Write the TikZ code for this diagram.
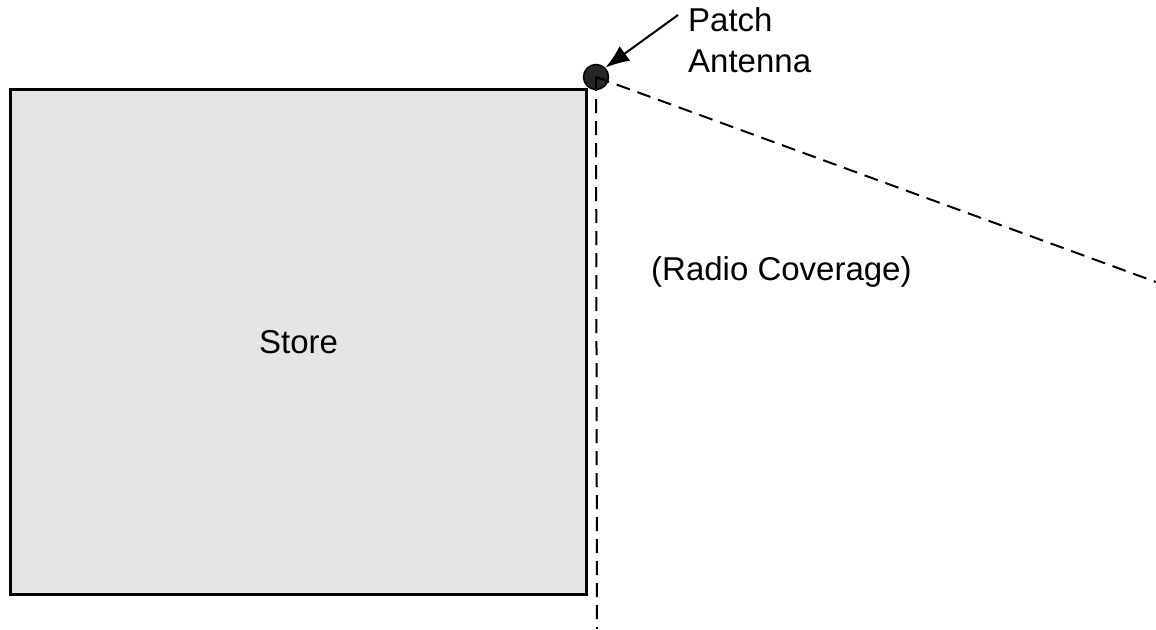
\documentclass[tikz,border=0pt]{standalone}
\usepackage{fontspec}
\setmainfont{Liberation Sans}
\usetikzlibrary{arrows.meta}
\begin{document}
\begin{tikzpicture}[x=1pt,y=-1pt,
  lbl/.style={font=\fontsize{33}{41}\selectfont, inner sep=0pt},
  cover/.style={line width=2pt, dash pattern=on 14pt off 8pt},
]
\useasboundingbox (0,0) rectangle (1156,629);
\node[draw, line width=3pt, fill=black!10, minimum width=576pt, minimum height=505pt, inner sep=0pt, anchor=north west, lbl] (store) at (9,88) {Store};
\node[circle, draw, line width=1.5pt, fill=black!85, minimum size=25pt, inner sep=0pt] (ant) at (596,77) {};
\coordinate (bot) at (597,629);
\coordinate (far) at (1156,282);
\draw[cover] (ant.center) -- (bot);
\draw[cover] (ant.center) -- (far);
\node[lbl, anchor=north west, align=left] (lab) at (688,7) {Patch\\Antenna};
\coordinate (tail) at (678,15);
\draw[line width=2pt, -{Latex[length=24pt,width=18pt]}] (tail) -- (ant.north east);
\node[lbl, anchor=west] (radio) at (651,272) {(Radio Coverage)};
\end{tikzpicture}
\end{document}
